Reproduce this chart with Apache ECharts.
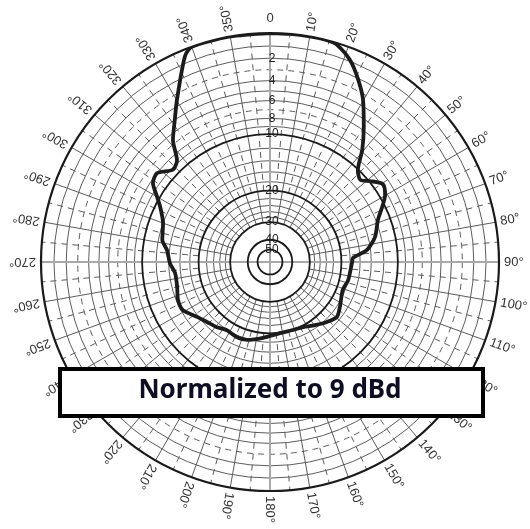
<!DOCTYPE html>
<html><head><meta charset="utf-8">
<script src="https://cdn.jsdelivr.net/npm/echarts@6/dist/echarts.min.js"></script>
<style>html,body{margin:0;padding:0;background:#fff}#c{width:530px;height:529px}</style>
</head><body><div id="c"></div>
<script>
// ---- data ----
const patternAngles = [0,5,10,15,17,21.6,25.8,29.9,34.8,39.4,43.7,47.7,51,55.4,59.8,63.2,68.7,76.6,82.9,87.2,90,103,111,122.7,129.4,136.5,144.5,153,161.3,172,185.3,196.4,203.7,212.3,219.2,226.4,233,241.1,247.6,255,263.4,269.4,276.6,281.5,290,296.6,299.9,304,308.2,313.5,317.6,321.5,326.2,330.1,337.5,340,350,360];
const patternDb = [0,0,0,0,0.1,0.9,2.1,3.5,5.7,7.8,10.1,10.8,9.9,8.8,9.3,10.2,11.7,12.9,14.6,17.4,17.6,18.0,18.5,17.4,16.7,17.5,18.6,19.6,19.9,19.9,18.9,17.8,17.6,17.9,17.2,16.6,15.8,14.3,14.3,14.9,15.0,14.2,13.6,12.6,12.0,10.7,9.7,8.3,8.0,9.2,8.7,6.6,5.0,3.5,0.5,0,0,0];
const angleTicks = [0,10,20,30,40,50,60,70,80,90,100,110,120,130,140,150,160,170,180,190,200,210,220,230,240,250,260,270,280,290,300,310,320,330,340,350];
const angleLabels = ['0','10°','20°','30°','40°','50°','60°','70°','80°','90°','100°','110°','120°','130°','140°','150°','160°','170°','180°','190°','200°','210°','220°','230°','240°','250°','260°','270°','280°','290°','300°','310°','320°','330°','340°','350°'];
const ringMajorDb = [0,10,20,30,40,50];
const ringMinorDb = [1,2,4,5,6,8,9,12,14,16,18,22,24,26,28];
const ringDashedDb = [3,7];
const radialTickDb = [2,4,6,8,10,20,30,40,50];
const radialTickLabels = ['2','4','6','8','10','20','30','40','50'];
const boxText = 'Normalized to 9 dBd';

// ARRL log-periodic radial scale: each 2 dB -> 0.89
function dbToR(d){ return Math.pow(0.89, d/2); }

const chart = echarts.init(document.getElementById('c'), null, {renderer:'canvas'});

function gridRender(params, api){
  const c = api.coord([0,0]);
  const rad = v => { const p = api.coord([v,0]); return Math.hypot(p[0]-c[0], p[1]-c[1]); };
  const children = [];
  const thin = '#5c5c5c';
  ringMinorDb.forEach(d => children.push({type:'circle', shape:{cx:c[0],cy:c[1],r:rad(dbToR(d))}, style:{fill:null, stroke:thin, lineWidth:1}}));
  ringDashedDb.forEach(d => children.push({type:'circle', shape:{cx:c[0],cy:c[1],r:rad(dbToR(d))}, style:{fill:null, stroke:thin, lineWidth:1, lineDash:[6,5]}}));
  for (let a = 0; a < 360; a += 5) {
    const major = a % 10 === 0;
    const rIn = major ? dbToR(30) : dbToR(20);
    const p1 = api.coord([rIn, a]), p2 = api.coord([1, a]);
    children.push({type:'line', shape:{x1:p1[0],y1:p1[1],x2:p2[0],y2:p2[1]}, style:{stroke:thin, lineWidth:1, lineDash: major ? null : [6,5]}});
  }
  [0,90].forEach(a => {
    const p1 = api.coord([1, a]), p2 = api.coord([1, a+180]);
    children.push({type:'line', shape:{x1:p1[0],y1:p1[1],x2:p2[0],y2:p2[1]}, style:{stroke:'#a8a8a8', lineWidth:2}});
  });
  ringMajorDb.forEach(d => children.push({type:'circle', shape:{cx:c[0],cy:c[1],r:rad(dbToR(d))}, style:{fill:null, stroke:'#1a1a1a', lineWidth: d===0 ? 2.2 : 1.8}}));
  return {type:'group', children};
}

function angleLabelRender(params, api){
  const a = api.value(1);
  const txt = angleLabels[params.dataIndex];
  const font = 'Liberation Sans Narrow, Liberation Sans, sans-serif';
  if (a === 0) {
    const p = api.coord([1.035, a]);
    return {type:'text', x:p[0], y:p[1], style:{text:txt, fill:'#333', fontSize:13, fontFamily:font, align:'center', verticalAlign:'bottom'}};
  }
  const p = api.coord([1.022, a]);
  return {type:'text', x:p[0], y:p[1], rotation:(90 - a) * Math.PI / 180,
    style:{text:txt, fill:'#333', fontSize:13, fontFamily:font, align:'left', verticalAlign:'middle'}};
}

function radialLabelRender(params, api){
  const p = api.coord([api.value(0), 0]);
  return {type:'text', x:p[0]+2, y:p[1], style:{text:radialTickLabels[params.dataIndex], fill:'#222', fontSize:12, fontFamily:'Liberation Sans Narrow, Liberation Sans, sans-serif', align:'center', verticalAlign:'middle'}};
}

const patternData = patternAngles.map((a,i) => [dbToR(patternDb[i]), a]);

chart.setOption({
  animation:false,
  backgroundColor:'#fff',
  polar:{center:[270,262], radius:229},
  angleAxis:{type:'value', min:0, max:360, startAngle:90, clockwise:true,
    axisLine:{show:false}, axisTick:{show:false}, axisLabel:{show:false}, splitLine:{show:false}},
  radiusAxis:{type:'value', min:0, max:1,
    axisLine:{show:false}, axisTick:{show:false}, axisLabel:{show:false}, splitLine:{show:false}},
  series:[
    {type:'custom', coordinateSystem:'polar', data:[[0,0]], renderItem:gridRender, z:1, silent:true},
    {type:'custom', coordinateSystem:'polar', data:radialTickDb.map(d=>[dbToR(d),0]), renderItem:radialLabelRender, z:2, silent:true},
    {type:'line', coordinateSystem:'polar', data:patternData, smooth:0.25, showSymbol:false, symbol:'none',
      lineStyle:{color:'#1c1c1c', width:3.8}, z:3, silent:true},
    {type:'custom', coordinateSystem:'polar', data:angleTicks.map(a=>[1,a]), renderItem:angleLabelRender, z:4, silent:true}
  ],
  graphic:[
    {type:'rect', left:58, top:367, z:100, shape:{width:423, height:47}, style:{fill:'#fff', stroke:'#000', lineWidth:4}},
    {type:'text', x:270, y:391, z:101, style:{text:boxText, fill:'#0d0d24', font:'bold 26px "Noto Sans", sans-serif', align:'center', verticalAlign:'middle'}}
  ]
});
</script>
</body></html>
